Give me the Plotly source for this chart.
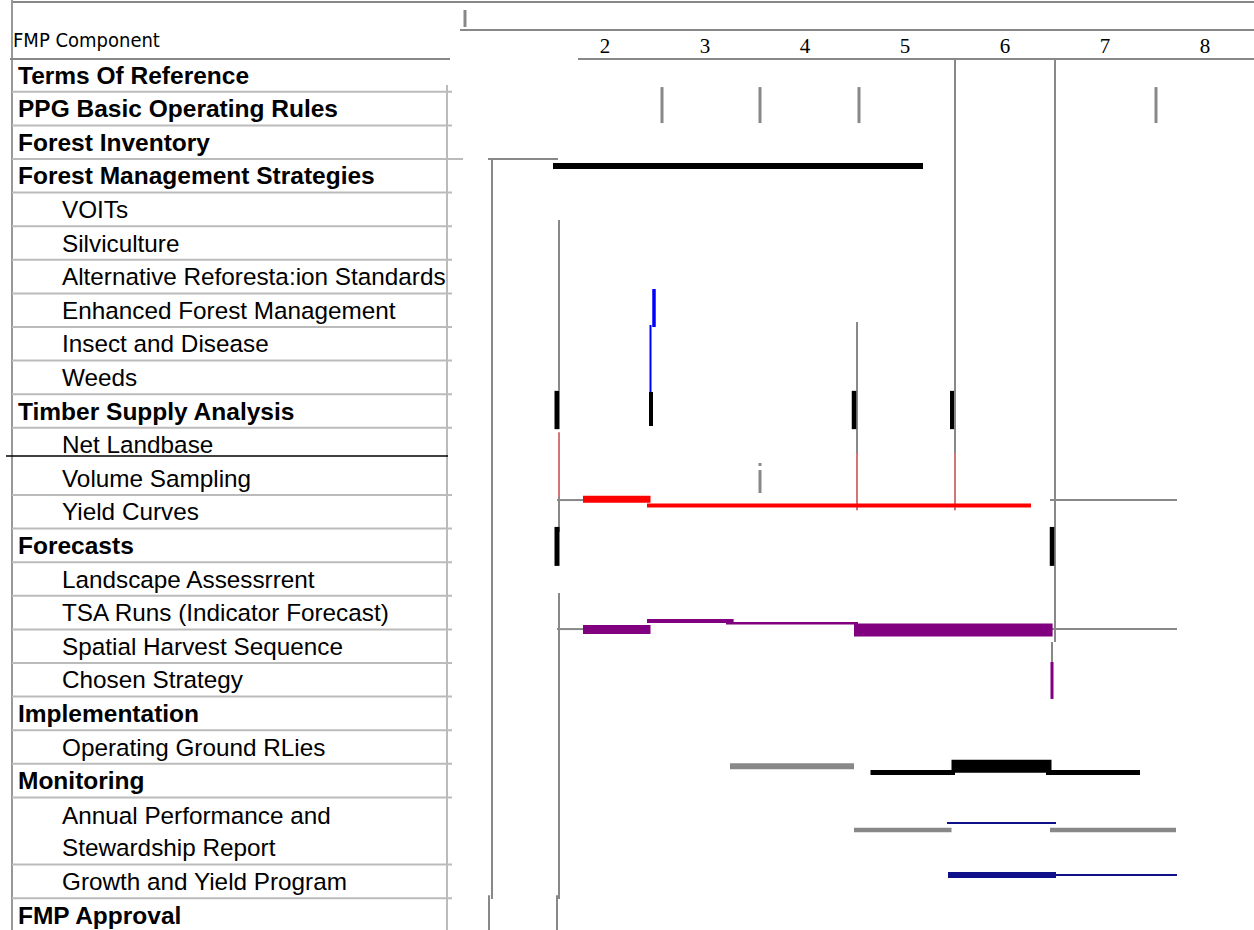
import plotly.graph_objects as go

# ---------------- data ----------------
components = [
    "Terms Of Reference", "PPG Basic Operating Rules", "Forest Inventory",
    "Forest Management Strategies", "VOITs", "Silviculture",
    "Alternative Reforesta:ion Standards", "Enhanced Forest Management",
    "Insect and Disease", "Weeds", "Timber Supply Analysis", "Net Landbase",
    "Volume Sampling", "Yield Curves", "Forecasts", "Landscape Assessrrent",
    "TSA Runs (Indicator Forecast)", "Spatial Harvest Sequence", "Chosen Strategy",
    "Implementation", "Operating Ground RLies", "Monitoring",
    "Annual Performance and<br>Stewardship Report", "Growth and Yield Program",
    "FMP Approval",
]
component_level = [0, 0, 0, 0, 1, 1, 1, 1, 1, 1, 0, 1, 1, 1, 0, 1, 1, 1, 1, 0, 1, 0, 1, 1, 0]
component_row = [1, 2, 3, 4, 5, 6, 7, 8, 9, 10, 11, 12, 13, 14, 15, 16, 17, 18, 19,
                 20, 21, 22, 23.5, 25, 26]
separator_rows = [1.5, 2.5, 3.5, 4.5, 5.5, 6.5, 7.5, 8.5, 9.5, 10.5, 11.5, 13.5, 14.5,
                  15.5, 16.5, 17.5, 18.5, 19.5, 20.5, 21.5, 22.5, 24.5, 25.5]

tick_months = [2, 3, 4, 5, 6, 7, 8]
tick_labels = ["2", "3", "4", "5", "6", "7", "8"]

# horizontal activity bars (month start / end, row)
bar_start = [1.48, 1.78, 2.42, 1.78, 2.42, 3.21, 4.49, 3.25, 4.655, 5.465, 6.41, 5.42, 4.49, 6.45, 5.43, 6.51]
bar_end   = [5.18, 2.455, 6.26, 2.455, 3.286, 4.53, 6.476, 4.49, 5.50, 6.465, 7.35, 6.51, 5.465, 7.71, 6.51, 7.72]
bar_row   = [3.71, 13.63, 13.81, 17.50, 17.25, 17.32, 17.52, 21.57, 21.76, 21.57, 21.76, 23.26, 23.47, 23.47, 24.81, 24.81]

# vertical milestone marks (month, row top, row bottom)
mark_month  = [2.57, 3.55, 4.54, 7.51, 1.52, 2.46, 4.49, 5.47, 1.52, 6.47, 6.47, 2.49, 2.455]
mark_top    = [1.36, 1.36, 1.36, 1.36, 10.40, 10.435, 10.40, 10.40, 14.45, 14.45, 18.47, 7.37, 8.44]
mark_bottom = [2.43, 2.43, 2.43, 2.43, 11.54, 11.446, 11.54, 11.54, 15.61, 15.61, 19.57, 8.50, 10.435]

# vertical link lines (month, row top, row bottom)
link_month  = [0.60, 5.50, 6.50, 6.47, 4.52, 1.54, 1.54, 1.54, 1.52, 0.87, 0.84, 1.54, 4.52, 5.50, 3.55, 3.55]
link_top    = [-0.935, 0.52, 0.52, 17.875, 8.35, 5.315, 13.56, 16.42, 25.41, 3.50, 25.41, 11.63, 12.25, 12.25, 12.548, 12.756]
link_bottom = [-0.429, 12.25, 17.875, 18.47, 12.25, 10.40, 14.60, 25.52, 26.45, 25.52, 26.45, 13.56, 13.95, 13.95, 12.637, 13.44]

# horizontal link lines (row, month start, month end)
hlink_row   = [-0.339, 0.524, 3.50, 13.65, 13.65, 17.49, 17.49]
hlink_start = [0.55, 1.73, 0.83, 1.52, 6.45, 1.52, 6.45]
hlink_end   = [8.49, 8.49, 1.53, 1.78, 7.72, 1.78, 7.72]

# ---------------- styles ----------------
BLACK, RED, PURPLE, NAVY, GRAY = "#000000", "#ff0000", "#800080", "#10108a", "#888888"
bar_color = [BLACK, RED, RED, PURPLE, PURPLE, PURPLE, PURPLE, GRAY, BLACK, BLACK, BLACK,
             NAVY, GRAY, GRAY, NAVY, NAVY]
bar_width = [6, 7, 4, 9, 4, 2.5, 13, 6, 5, 13, 5, 2, 4.5, 4.5, 6, 2]
mark_color = [GRAY] * 4 + [BLACK] * 6 + [PURPLE, "#0000ff", "#0000ff"]
mark_width = [3] * 4 + [5, 4, 4.5, 4, 5, 4.5, 3, 3.5, 2]
link_color = [GRAY] * 11 + ["#c04848"] * 3 + [GRAY, GRAY]
link_width = [3, 2, 2, 2, 2, 2, 2, 2, 2, 2, 2, 1.5, 1.5, 1.5, 3, 3]

X_MIN, X_MAX = -4.05, 8.49
Y_TOP, Y_BOT = -1.232, 26.446
TABLE_L, TABLE_R = -3.93, 0.47

fig = go.Figure()


def seg(xs, ys, color, width):
    fig.add_trace(go.Scatter(x=xs, y=ys, mode="lines", hoverinfo="skip",
                             line=dict(color=color, width=width), showlegend=False))


# table frame
seg([TABLE_L, X_MAX], [-1.173, -1.173], GRAY, 2)
seg([TABLE_L, TABLE_L], [Y_TOP, Y_BOT], "#999999", 2)
seg([-3.95, 0.45], [0.524, 0.524], GRAY, 2)
seg([0.42, 0.42], [1.30, Y_BOT], "#bbbbbb", 2)
for r in separator_rows:
    seg([TABLE_L, 0.58 if r == 3.5 else TABLE_R], [r, r], "#bbbbbb", 2)
seg([-3.99, 0.43], [12.34, 12.34], BLACK, 1.5)

# link lines
for m, t, b, c, w in zip(link_month, link_top, link_bottom, link_color, link_width):
    seg([m, m], [t, b], c, w)
for r, s, e in zip(hlink_row, hlink_start, hlink_end):
    seg([s, e], [r, r], GRAY, 2)

# bars
for s, e, r, c, w in zip(bar_start, bar_end, bar_row, bar_color, bar_width):
    seg([s, e], [r, r], c, w)

# milestone marks
for m, t, b, c, w in zip(mark_month, mark_top, mark_bottom, mark_color, mark_width):
    seg([m, m], [t, b], c, w)

# tick labels
fig.add_trace(go.Scatter(x=tick_months, y=[0.2] * len(tick_months), mode="text",
                         text=tick_labels, hoverinfo="skip", showlegend=False,
                         textfont=dict(family="Liberation Serif", size=21, color="#000000")))

annotations = [dict(x=-3.94, y=-0.04, xref="x", yref="y", text="FMP Component",
                    showarrow=False, xanchor="left", yanchor="middle",
                    font=dict(family="DejaVu Sans Condensed, Liberation Sans", size=20, color="#000"))]
for name, lvl, row in zip(components, component_level, component_row):
    if lvl == 0:
        annotations.append(dict(x=-3.89, y=row, xref="x", yref="y", text="<b>" + name + "</b>",
                                showarrow=False, xanchor="left", yanchor="middle", align="left",
                                font=dict(family="Liberation Sans", size=24.5, color="#000")))
    else:
        annotations.append(dict(x=-3.45, y=row, xref="x", yref="y", text=name,
                                showarrow=False, xanchor="left", yanchor="middle", align="left",
                                font=dict(family="Liberation Sans", size=24.3, color="#000")))

fig.update_layout(
    width=1254, height=930,
    margin=dict(l=0, r=0, t=0, b=0),
    paper_bgcolor="white", plot_bgcolor="white",
    xaxis=dict(range=[X_MIN, X_MAX], visible=False, showgrid=False, zeroline=False, fixedrange=True),
    yaxis=dict(range=[Y_BOT, Y_TOP], visible=False, showgrid=False, zeroline=False, fixedrange=True),
    annotations=annotations,
)

fig.write_html("out.html", config={"displayModeBar": False},
               post_script="document.body.style.margin='0px';document.body.style.overflow='hidden';")
